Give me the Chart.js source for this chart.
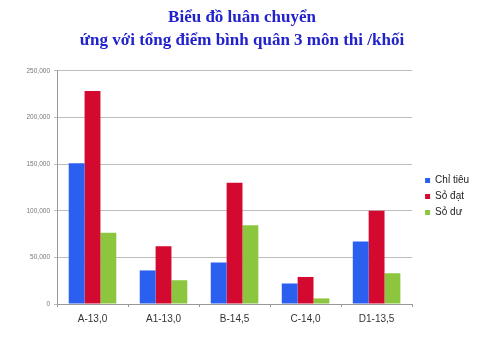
<!DOCTYPE html>
<html>
<head>
<meta charset="utf-8">
<script src="https://cdn.jsdelivr.net/npm/chart.js@4"></script>
<style>
  html, body { margin: 0; padding: 0; background: #fff; }
  #wrap { width: 480px; height: 345px; }
</style>
</head>
<body>
<div id="wrap"><canvas id="chart" width="480" height="345"></canvas></div>
<script>
const titleLines = ["Biểu đồ luân chuyển", "ứng với tổng điểm bình quân 3 môn thi /khối"];
const categories = ["A-13,0", "A1-13,0", "B-14,5", "C-14,0", "D1-13,5"];
const chiTieu = [151000, 36000, 44500, 22000, 67000];
const soDat = [228500, 62000, 130000, 29000, 100000];
const soDu = [76500, 25500, 84500, 6000, 33000];
const yTicks = [0, 50000, 100000, 150000, 200000, 250000];

function formatThousands(value) {
  return value.toLocaleString("en-US");
}

// legend sits a bit away from the plot and lower than chart.js centres it
const legendShift = {
  id: "legendShift",
  beforeInit(chart) {
    const fit = chart.legend.fit;
    chart.legend.fit = function () {
      fit.call(this);
      this.width += 8;
    };
  },
  afterLayout(chart) {
    const legend = chart.legend;
    legend.left += 7;
    legend.right += 7;
    legend.top += 31;
    legend.bottom += 31;
  },
};

const ctx = document.getElementById("chart");

new Chart(ctx, {
  type: "bar",
  data: {
    labels: categories,
    datasets: [
      { label: "Chỉ tiêu", data: chiTieu, backgroundColor: "#2a5ff0" },
      { label: "Sỏ đạt", data: soDat, backgroundColor: "#d4092f" },
      { label: "Sỏ dư", data: soDu, backgroundColor: "#8cc63f" },
    ],
  },
  plugins: [legendShift],
  options: {
    responsive: false,
    animation: false,
    layout: { padding: { left: 4, right: 0, bottom: 14 } },
    datasets: {
      bar: { barPercentage: 1, categoryPercentage: 0.67 },
    },
    plugins: {
      title: {
        display: true,
        text: titleLines,
        color: "#2222cc",
        font: { family: "Liberation Serif", size: 17, weight: "bold", lineHeight: 1.35 },
        padding: { top: 6, bottom: 19 },
      },
      legend: {
        position: "right",
        labels: {
          boxWidth: 5,
          boxHeight: 5,
          padding: 6,
          color: "#222",
          font: { family: "Liberation Sans", size: 10 },
        },
      },
      tooltip: { enabled: false },
    },
    scales: {
      x: {
        grid: { drawOnChartArea: false, drawTicks: true, tickLength: 3, color: "#999" },
        border: { color: "#999" },
        ticks: { color: "#333", font: { family: "Liberation Sans", size: 10 }, padding: 6 },
      },
      y: {
        min: 0,
        max: 250000,
        afterBuildTicks: (axis) => {
          axis.ticks = yTicks.map((v) => ({ value: v }));
        },
        afterFit: (axis) => {
          axis.width = 53;
        },
        grid: { color: "#bdbdbd", tickLength: 3 },
        border: { color: "#999" },
        ticks: {
          color: "#777",
          font: { family: "Liberation Sans", size: 6.5 },
          padding: 4,
          callback: (value) => formatThousands(value),
        },
      },
    },
  },
});
</script>
</body>
</html>
